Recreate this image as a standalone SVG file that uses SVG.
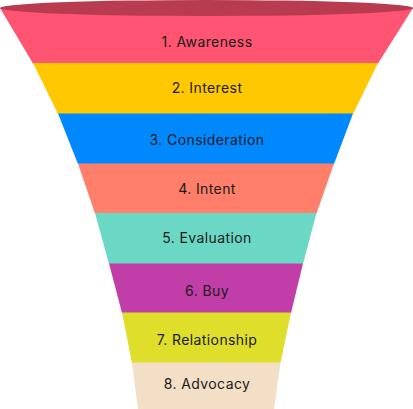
<svg xmlns="http://www.w3.org/2000/svg" width="413" height="409" viewBox="0 0 413 409">
<style>
text{font-family:"Inter","Noto Sans","Liberation Sans",sans-serif;font-size:14px;letter-spacing:0.4px;fill:#1a1a1a;text-anchor:middle}
</style>
<rect width="413" height="409" fill="#ffffff"/>
<g id="band1"><path d="M0,8 L413,8 L378,63.5 L33,63.5 Z" fill="#FF5472"/><text x="207" y="47">1. Awareness</text></g>
<g id="band2"><path d="M33,63 L378,63 L353,114 L58,114 Z" fill="#FFC800"/><text x="207" y="93">2. Interest</text></g>
<g id="band3"><path d="M58,113.5 L353,113.5 L334,164 L78,164 Z" fill="#0088FF"/><text x="207" y="145">3. Consideration</text></g>
<g id="band4"><path d="M78,163.5 L334,163.5 L316.5,213.5 L95,213.5 Z" fill="#FF7F6B"/><text x="207" y="194">4. Intent</text></g>
<g id="band5"><path d="M95,213 L316.5,213 L303,264 L109,264 Z" fill="#6AD8C4"/><text x="207" y="243">5. Evaluation</text></g>
<g id="band6"><path d="M109,263.5 L303,263.5 L291,313 L122,313 Z" fill="#C13EA8"/><text x="207" y="296">6. Buy</text></g>
<g id="band7"><path d="M122,312.5 L291,312.5 L280.5,363 L132,363 Z" fill="#DEDE2B"/><text x="207" y="345">7. Relationship</text></g>
<g id="band8"><path d="M132,362.5 L280.5,362.5 L274,409 L138,409 Z" fill="#F3DEC6"/><text x="207" y="389">8. Advocacy</text></g>
<g id="top"><ellipse cx="206.5" cy="8" rx="206.5" ry="8" fill="#B83B50"/></g>
<g id="connectors"></g>
</svg>
